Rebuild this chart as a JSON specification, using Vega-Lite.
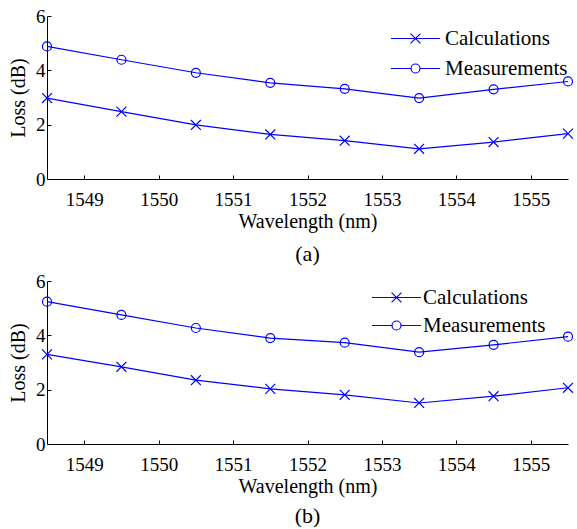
{
  "$schema": "https://vega.github.io/schema/vega-lite/v6.json",
  "padding": {"left": 8, "top": 7, "right": 0, "bottom": 0},
  "config": {
    "font": "Liberation Serif, Times New Roman, DejaVu Serif, serif",
    "view": {"stroke": null},
    "axis": {
      "domainColor": "black", "tickColor": "black", "labelColor": "black", "titleColor": "black",
      "grid": false, "labelFontSize": 19, "titleFontSize": 20, "titleFontWeight": "normal",
      "labelFont": "Liberation Serif, Times New Roman, DejaVu Serif, serif", "titleFont": "Liberation Serif, Times New Roman, DejaVu Serif, serif",
      "tickSize": -4, "domainWidth": 1, "tickWidth": 1
    },
    "axisX": {"labelPadding": 15, "titlePadding": 2},
    "axisY": {"labelPadding": 6, "titlePadding": 7},
    "legend": {"labelFont": "Liberation Serif, Times New Roman, DejaVu Serif, serif"},
    "title": {"font": "Liberation Serif, Times New Roman, DejaVu Serif, serif"},
    "concat": {"spacing": 7}
  },
  "resolve": {"scale": {"shape": "independent"}, "legend": {"shape": "independent"}},
  "datasets": {
    "a": [
      {"wavelength": 1548.5, "loss": 2.98, "series": "Calculations"},
      {"wavelength": 1549.5, "loss": 2.48, "series": "Calculations"},
      {"wavelength": 1550.5, "loss": 1.99, "series": "Calculations"},
      {"wavelength": 1551.5, "loss": 1.64, "series": "Calculations"},
      {"wavelength": 1552.5, "loss": 1.41, "series": "Calculations"},
      {"wavelength": 1553.5, "loss": 1.11, "series": "Calculations"},
      {"wavelength": 1554.5, "loss": 1.36, "series": "Calculations"},
      {"wavelength": 1555.5, "loss": 1.67, "series": "Calculations"},
      {"wavelength": 1548.5, "loss": 4.88, "series": "Measurements"},
      {"wavelength": 1549.5, "loss": 4.39, "series": "Measurements"},
      {"wavelength": 1550.5, "loss": 3.91, "series": "Measurements"},
      {"wavelength": 1551.5, "loss": 3.54, "series": "Measurements"},
      {"wavelength": 1552.5, "loss": 3.32, "series": "Measurements"},
      {"wavelength": 1553.5, "loss": 2.98, "series": "Measurements"},
      {"wavelength": 1554.5, "loss": 3.30, "series": "Measurements"},
      {"wavelength": 1555.5, "loss": 3.59, "series": "Measurements"}
    ],
    "b": [
      {"wavelength": 1548.5, "loss": 3.30, "series": "Calculations"},
      {"wavelength": 1549.5, "loss": 2.84, "series": "Calculations"},
      {"wavelength": 1550.5, "loss": 2.35, "series": "Calculations"},
      {"wavelength": 1551.5, "loss": 2.03, "series": "Calculations"},
      {"wavelength": 1552.5, "loss": 1.81, "series": "Calculations"},
      {"wavelength": 1553.5, "loss": 1.51, "series": "Calculations"},
      {"wavelength": 1554.5, "loss": 1.76, "series": "Calculations"},
      {"wavelength": 1555.5, "loss": 2.07, "series": "Calculations"},
      {"wavelength": 1548.5, "loss": 5.24, "series": "Measurements"},
      {"wavelength": 1549.5, "loss": 4.75, "series": "Measurements"},
      {"wavelength": 1550.5, "loss": 4.27, "series": "Measurements"},
      {"wavelength": 1551.5, "loss": 3.90, "series": "Measurements"},
      {"wavelength": 1552.5, "loss": 3.73, "series": "Measurements"},
      {"wavelength": 1553.5, "loss": 3.38, "series": "Measurements"},
      {"wavelength": 1554.5, "loss": 3.65, "series": "Measurements"},
      {"wavelength": 1555.5, "loss": 3.95, "series": "Measurements"}
    ]
  },
  "vconcat": [
    {
      "width": 521, "height": 163,
      "data": {"name": "a"},
      "title": {"text": "(a)", "orient": "bottom", "fontSize": 22, "fontWeight": "normal", "color": "black", "offset": 13},
      "encoding": {
        "x": {"field": "wavelength", "type": "quantitative", "scale": {"domain": [1548.5, 1555.5], "nice": false, "zero": false},
              "axis": {"values": [1549, 1550, 1551, 1552, 1553, 1554, 1555], "format": "d", "title": "Wavelength (nm)"}},
        "y": {"field": "loss", "type": "quantitative", "scale": {"domain": [0, 6], "nice": false},
              "axis": {"values": [0, 2, 4, 6], "title": "Loss (dB)"}}
      },
      "resolve": {"scale": {"shape": "independent"}, "legend": {"shape": "independent"}},
      "layer": [
        {"mark": {"type": "line", "color": "#0000ff", "strokeWidth": 1.2}, "encoding": {"detail": {"field": "series", "type": "nominal"}}},
        {"mark": {"type": "point", "filled": false, "color": "#0000ff", "size": 81, "strokeWidth": 1.2, "opacity": 1},
         "encoding": {"shape": {"field": "series", "type": "nominal",
           "scale": {"domain": ["Calculations", "Measurements"], "range": ["M-1.1,-1.1L1.1,1.1M-1.1,1.1L1.1,-1.1", "circle"]},
           "legend": null}}},
        {"mark": {"type": "point", "filled": false, "color": "#0000ff", "size": 1, "strokeWidth": 1.2, "opacity": 0, "clip": true},
         "encoding": {"shape": {"field": "series", "type": "nominal",
           "scale": {"domain": ["Calculations", "Measurements"], "range": ["M-5.44,0L5.44,0M-1.1,-1.1L1.1,1.1M-1.1,1.1L1.1,-1.1", "M-5.44,0L-1,0M1,0L5.44,0M-1,0A1,1 0 1 0 1,0A1,1 0 1 0 -1,0"]},
           "legend": {"orient": "none", "legendX": 338, "legendY": 12, "title": null, "padding": 0,
             "labelFontSize": 21, "labelColor": "black", "symbolOpacity": 1,
             "symbolStrokeColor": "#0000ff", "symbolFillColor": "transparent",
             "symbolOffset": 20, "labelOffset": 19, "rowPadding": 8, "symbolSize": 81, "symbolStrokeWidth": 1.2}}}}
      ]
    },
    {
      "width": 521, "height": 163,
      "data": {"name": "b"},
      "title": {"text": "(b)", "orient": "bottom", "fontSize": 22, "fontWeight": "normal", "color": "black", "offset": 10},
      "encoding": {
        "x": {"field": "wavelength", "type": "quantitative", "scale": {"domain": [1548.5, 1555.5], "nice": false, "zero": false},
              "axis": {"values": [1549, 1550, 1551, 1552, 1553, 1554, 1555], "format": "d", "title": "Wavelength (nm)"}},
        "y": {"field": "loss", "type": "quantitative", "scale": {"domain": [0, 6], "nice": false},
              "axis": {"values": [0, 2, 4, 6], "title": "Loss (dB)"}}
      },
      "resolve": {"scale": {"shape": "independent"}, "legend": {"shape": "independent"}},
      "layer": [
        {"mark": {"type": "line", "color": "#0000ff", "strokeWidth": 1.2}, "encoding": {"detail": {"field": "series", "type": "nominal"}}},
        {"mark": {"type": "point", "filled": false, "color": "#0000ff", "size": 81, "strokeWidth": 1.2, "opacity": 1},
         "encoding": {"shape": {"field": "series", "type": "nominal",
           "scale": {"domain": ["Calculations", "Measurements"], "range": ["M-1.1,-1.1L1.1,1.1M-1.1,1.1L1.1,-1.1", "circle"]},
           "legend": null}}},
        {"mark": {"type": "point", "filled": false, "color": "#0000ff", "size": 1, "strokeWidth": 1.2, "opacity": 0, "clip": true},
         "encoding": {"shape": {"field": "series", "type": "nominal",
           "scale": {"domain": ["Calculations", "Measurements"], "range": ["M-5.44,0L5.44,0M-1.1,-1.1L1.1,1.1M-1.1,1.1L1.1,-1.1", "M-5.44,0L-1,0M1,0L5.44,0M-1,0A1,1 0 1 0 1,0A1,1 0 1 0 -1,0"]},
           "legend": {"orient": "none", "legendX": 319, "legendY": 6, "title": null, "padding": 0,
             "labelFontSize": 21, "labelColor": "black", "symbolOpacity": 1,
             "symbolStrokeColor": "#0000ff", "symbolFillColor": "transparent",
             "symbolOffset": 20, "labelOffset": 16, "rowPadding": 6, "symbolSize": 81, "symbolStrokeWidth": 1.2}}}}
      ]
    }
  ]
}
